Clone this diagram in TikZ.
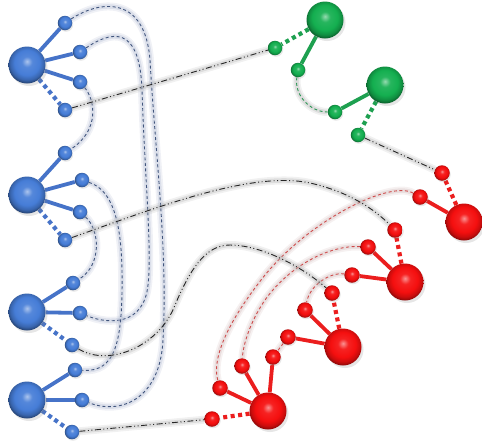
\documentclass[tikz,border=0pt]{standalone}
\usetikzlibrary{shadows,backgrounds}
\definecolor{cblue}{RGB}{70,125,215}
\definecolor{cbluel}{RGB}{70,115,200}
\definecolor{cgreen}{RGB}{20,175,80}
\definecolor{cgreenl}{RGB}{30,160,80}
\definecolor{cred}{RGB}{245,15,15}
\definecolor{credl}{RGB}{235,30,30}
\definecolor{lnblue}{RGB}{65,85,125}
\definecolor{lnred}{RGB}{205,75,75}
\definecolor{lngreen}{RGB}{45,150,85}
\definecolor{hblue}{RGB}{170,180,205}
\definecolor{hred}{RGB}{205,180,180}
\definecolor{hgray}{RGB}{175,175,175}
\pgfdeclareradialshading{bshade}{\pgfpoint{0bp}{5bp}}{color(0bp)=(cblue!45!white); color(7bp)=(cblue!92!white); color(17bp)=(cblue); color(23bp)=(cblue!80!black); color(28bp)=(cblue!45!black); color(50bp)=(black)}
\pgfdeclareradialshading{gshade}{\pgfpoint{0bp}{5bp}}{color(0bp)=(cgreen!45!white); color(7bp)=(cgreen!92!white); color(17bp)=(cgreen); color(23bp)=(cgreen!80!black); color(28bp)=(cgreen!45!black); color(50bp)=(black)}
\pgfdeclareradialshading{rshade}{\pgfpoint{0bp}{5bp}}{color(0bp)=(cred!45!white); color(7bp)=(cred!92!white); color(17bp)=(cred); color(23bp)=(cred!82!black); color(28bp)=(cred!50!black); color(50bp)=(black)}
\begin{document}
\begin{tikzpicture}[x=1pt,y=-1pt,
  hub/.style={circle,inner sep=0pt,minimum size=37pt,
    drop shadow={opacity=0.2,shadow xshift=2pt,shadow yshift=-2.5pt}},
  leaf/.style={circle,inner sep=0pt,minimum size=14.5pt,
    drop shadow={opacity=0.18,shadow xshift=1pt,shadow yshift=-1.5pt}},
  bhub/.style={hub,shading=bshade}, bleaf/.style={leaf,shading=bshade},
  ghub/.style={hub,shading=gshade}, gleaf/.style={leaf,shading=gshade},
  rhub/.style={hub,shading=rshade}, rleaf/.style={leaf,shading=rshade,minimum size=15.5pt},
  spoke/.style={draw=#1,line width=3.8pt},
  dotspoke/.style={draw=#1,line width=4.2pt,dash pattern=on 4pt off 3.5pt},
  halo/.style={preaction={draw=#1,line width=8pt,solid,opacity=0.18},
               preaction={draw=#1,line width=4.5pt,solid,opacity=0.3}},
  blink/.style={draw=lnblue,line width=0.9pt,dash pattern=on 3pt off 2.5pt,halo=hblue},
  rlink/.style={draw=lnred,line width=0.9pt,dash pattern=on 3pt off 2.5pt,halo=hred},
  glink/.style={draw=lngreen,line width=0.9pt,dash pattern=on 3pt off 2.5pt,halo=hgray},
  klink/.style={draw=black!85,line width=0.9pt,
    dash pattern=on 6pt off 2.5pt on 1pt off 2.5pt on 1pt off 2.5pt,halo=hgray}
]
\useasboundingbox (0,0) rectangle (482,445);
% blue hubs
\node[bhub] (B1) at (27,65) {};
\node[bleaf] (a1) at (65,23) {};
\node[bleaf] (a2) at (80,52) {};
\node[bleaf] (a3) at (80,82) {};
\node[bleaf] (a4) at (65,110) {};
\node[bhub] (B2) at (27,195) {};
\node[bleaf] (b1) at (65,153) {};
\node[bleaf] (b2) at (82,180) {};
\node[bleaf] (b3) at (80,212) {};
\node[bleaf] (b4) at (65,240) {};
\node[bhub] (B3) at (27,312) {};
\node[bleaf] (c1) at (73,283) {};
\node[bleaf] (c2) at (80,313) {};
\node[bleaf] (c4) at (72,345) {};
\node[bhub] (B4) at (27,400) {};
\node[bleaf] (d1) at (75,370) {};
\node[bleaf] (d2) at (82,400) {};
\node[bleaf] (d4) at (72,432) {};
% green hubs
\node[ghub] (G1) at (325,20) {};
\node[gleaf] (g1) at (275,48) {};
\node[gleaf] (g2) at (298,70) {};
\node[ghub] (G2) at (385,85) {};
\node[gleaf] (g3) at (335,112) {};
\node[gleaf] (g4) at (358,135) {};
% red hubs
\node[rhub] (R1) at (464,222) {};
\node[rleaf] (r1a) at (420,197) {};
\node[rleaf] (r1d) at (442,173) {};
\node[rhub] (R2) at (405,282) {};
\node[rleaf] (r2a) at (368,247) {};
\node[rleaf] (r2b) at (352,275) {};
\node[rleaf] (r2d) at (395,230) {};
\node[rhub] (R3) at (343,347) {};
\node[rleaf] (r3a) at (305,310) {};
\node[rleaf] (r3b) at (288,337) {};
\node[rleaf] (r3d) at (332,293) {};
\node[rhub] (R4) at (268,411) {};
\node[rleaf] (r4a) at (220,388) {};
\node[rleaf] (r4b) at (242,366) {};
\node[rleaf] (r4c) at (273,357) {};
\node[rleaf] (r4d) at (212,419) {};
\begin{scope}[on background layer]
% blue dashed links
\draw[blink] (a1) .. controls (100,0) and (145,-5) .. (150,60)
  .. controls (155,150) and (168,250) .. (163,340)
  .. controls (160,400) and (120,415) .. (d2);
\draw[blink] (a2) .. controls (120,25) and (140,35) .. (142,90)
  .. controls (145,180) and (152,250) .. (148,285)
  .. controls (144,325) and (110,325) .. (c2);
\draw[blink] (a3) .. controls (95,100) and (100,130) .. (b1);
\draw[blink] (b2) .. controls (112,190) and (121,220) .. (122,270)
  .. controls (123,345) and (115,372) .. (d1);
\draw[blink] (b3) .. controls (100,230) and (102,265) .. (c1);
% green dashed link
\draw[glink] (g2) .. controls (294,95) and (310,112) .. (g3);
% red dashed links
\draw[rlink] (r1a) .. controls (390,180) and (310,220) .. (265,275)
  .. controls (225,325) and (212,360) .. (r4a);
\draw[rlink] (r2a) .. controls (330,245) and (290,265) .. (265,300)
  .. controls (250,322) and (243,345) .. (r4b);
\draw[rlink] (r2b) .. controls (330,272) and (310,285) .. (r3a);
\draw[rlink] (r3b) -- (r4c);
% black dash-dot links
\draw[klink] (a4) -- (g1);
\draw[klink] (g4) -- (r1d);
\draw[klink] (b4) .. controls (150,210) and (250,170) .. (310,183)
  .. controls (350,192) and (375,210) .. (r2d);
\draw[klink] (c4) .. controls (110,368) and (160,345) .. (175,305)
  .. controls (190,270) and (205,245) .. (230,245)
  .. controls (260,245) and (300,265) .. (r3d);
\draw[klink] (d4) -- (r4d);
% spokes
\foreach \l in {a1,a2,a3} \draw[spoke=cbluel] (B1) -- (\l);
\draw[dotspoke=cbluel] (B1) -- (a4);
\foreach \l in {b1,b2,b3} \draw[spoke=cbluel] (B2) -- (\l);
\draw[dotspoke=cbluel] (B2) -- (b4);
\foreach \l in {c1,c2} \draw[spoke=cbluel] (B3) -- (\l);
\draw[dotspoke=cbluel] (B3) -- (c4);
\foreach \l in {d1,d2} \draw[spoke=cbluel] (B4) -- (\l);
\draw[dotspoke=cbluel] (B4) -- (d4);
\draw[spoke=cgreenl] (G1) -- (g2);
\draw[dotspoke=cgreenl] (G1) -- (g1);
\draw[spoke=cgreenl] (G2) -- (g3);
\draw[dotspoke=cgreenl] (G2) -- (g4);
\draw[spoke=credl] (R1) -- (r1a);
\draw[dotspoke=credl] (R1) -- (r1d);
\foreach \l in {r2a,r2b} \draw[spoke=credl] (R2) -- (\l);
\draw[dotspoke=credl] (R2) -- (r2d);
\foreach \l in {r3a,r3b} \draw[spoke=credl] (R3) -- (\l);
\draw[dotspoke=credl] (R3) -- (r3d);
\foreach \l in {r4a,r4b,r4c} \draw[spoke=credl] (R4) -- (\l);
\draw[dotspoke=credl] (R4) -- (r4d);
\end{scope}
\end{tikzpicture}
\end{document}
